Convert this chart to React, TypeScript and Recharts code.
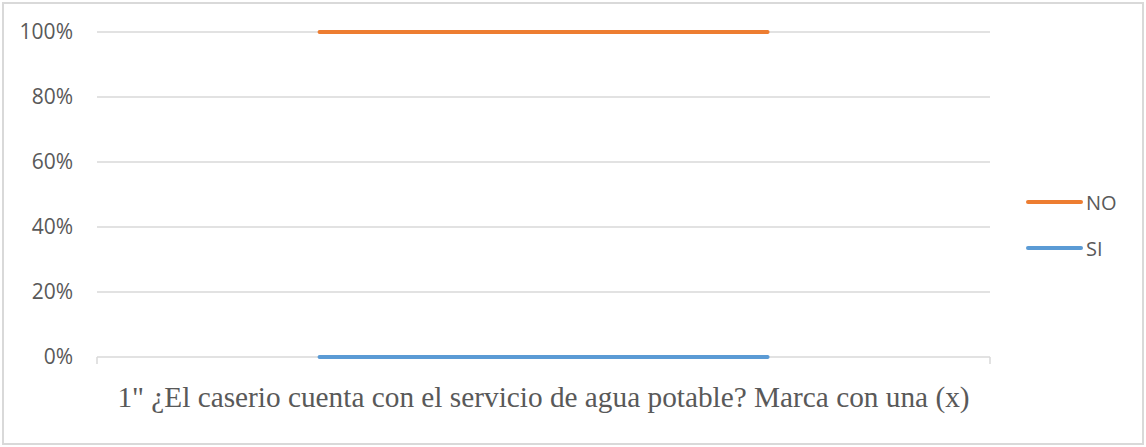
import React from 'react';
import { BarChart, Bar, XAxis, YAxis, CartesianGrid, Legend } from 'recharts';

const categories = ['1" ¿El caserio cuenta con el servicio de agua potable? Marca con una (x)'];
const siValues = [0];
const noValues = [1];
const yTicks = [0, 0.2, 0.4, 0.6, 0.8, 1];

const SERIES = [
  { key: 'SI', color: '#5B9BD5' },
  { key: 'NO', color: '#ED7D31' },
];

const data = categories.map((c, i) => ({ name: c, SI: siValues[i], NO: noValues[i] }));

const GRID = '#D9D9D9';
const TEXT = '#595959';
const LEGEND_W = 110;

// Excel draws each series as a flat line across the category, at the top of its stack
const lineShape = (color: string) => (props: any) => {
  const { x, y, width } = props;
  return (
    <line
      x1={x + 2}
      x2={x + width - 2}
      y1={y}
      y2={y}
      stroke={color}
      strokeWidth={4}
      strokeLinecap="round"
    />
  );
};

const CategoryTick = (props: any) => {
  const { x, y, payload } = props;
  const off = payload.offset || 0;
  return (
    <g>
      <line x1={x - off} x2={x - off} y1={y} y2={y + 7} stroke={GRID} strokeWidth={1.5} />
      <line x1={x + off} x2={x + off} y1={y} y2={y + 7} stroke={GRID} strokeWidth={1.5} />
      <text
        x={x}
        y={y + 50}
        textAnchor="middle"
        fill={TEXT}
        fontFamily="'Liberation Serif', 'Times New Roman', serif"
        fontSize={29.3}
      >
        {payload.value}
      </text>
    </g>
  );
};

const LegendContent = (props: any) => {
  const items = [...(props.payload || [])].sort((a: any, b: any) =>
    String(a.value).localeCompare(String(b.value))
  );
  return (
    <div>
      {items.map((it: any) => (
        <div key={it.value} style={{ display: 'flex', alignItems: 'center', height: 46 }}>
          <svg width={57} height={8}>
            <line x1={2} x2={55} y1={4} y2={4} stroke={it.color} strokeWidth={4} strokeLinecap="round" />
          </svg>
          <span style={{ marginLeft: 3, color: TEXT, fontSize: 20, fontFamily: "'Open Sans', sans-serif" }}>
            {it.value}
          </span>
        </div>
      ))}
    </div>
  );
};

export default function App() {
  return (
    <div style={{ position: 'absolute', left: 0, top: 0, width: 1146, height: 447, background: '#fff' }}>
      <div
        style={{
          position: 'absolute',
          left: 2,
          top: 2,
          width: 1142,
          height: 443,
          boxSizing: 'border-box',
          border: `2px solid ${GRID}`,
        }}
      />
      <BarChart
        width={1146}
        height={447}
        data={data}
        margin={{ top: 32, right: 156 - LEGEND_W, bottom: 0, left: 0 }}
        barCategoryGap="24.7%"
        style={{ position: 'absolute', left: 0, top: 0 }}
      >
        <CartesianGrid vertical={false} stroke={GRID} strokeWidth={1.5} />
        <XAxis
          dataKey="name"
          type="category"
          axisLine={false}
          tickLine={false}
          tickSize={0}
          tickMargin={0}
          height={90}
          tick={<CategoryTick />}
          interval={0}
        />
        <YAxis
          width={97}
          domain={[0, 1]}
          ticks={yTicks}
          axisLine={false}
          tickLine={false}
          tickSize={0}
          tickMargin={24}
          tickFormatter={(v: number) => `${Math.round(v * 100)}%`}
          tick={{ fill: TEXT, fontSize: 21, fontFamily: "'Open Sans', sans-serif" }}
        />
        {SERIES.map((s) => (
          <Bar
            key={s.key}
            dataKey={s.key}
            name={s.key}
            stackId="a"
            fill={s.color}
            shape={lineShape(s.color)}
            isAnimationActive={false}
          />
        ))}
        <Legend
          layout="vertical"
          align="right"
          verticalAlign="top"
          content={<LegendContent />}
          wrapperStyle={{ position: 'absolute', left: 1026, top: 179, width: LEGEND_W }}
        />
      </BarChart>
    </div>
  );
}
